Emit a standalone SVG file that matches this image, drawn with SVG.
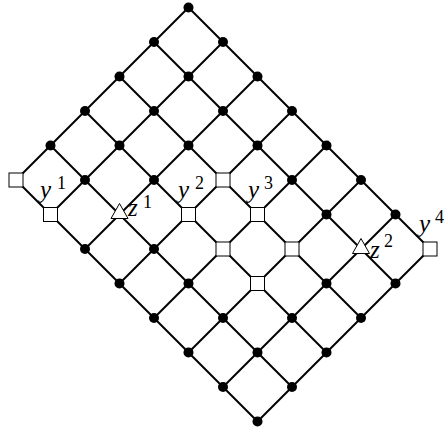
<svg xmlns="http://www.w3.org/2000/svg" width="444" height="429" viewBox="0 0 444 429">
<style>
.e{stroke:#000;stroke-width:2;fill:none}
.dot{fill:#000}
.sq{fill:#fff;stroke:#000;stroke-width:1}
.tri{fill:#fff;stroke:#000;stroke-width:1}
.lbl{font-family:"Liberation Serif",serif;font-style:italic;font-size:25px;fill:#000}
.sup{font-style:normal;font-size:18px}
</style>
<rect width="444" height="429" fill="#fff"/>
<g id="connectors">
<line class="e" x1="188.5" y1="7.5" x2="154" y2="42"/><line class="e" x1="154" y1="42" x2="119.5" y2="76.5"/><line class="e" x1="119.5" y1="76.5" x2="85" y2="111"/><line class="e" x1="85" y1="111" x2="50.5" y2="145.5"/><line class="e" x1="50.5" y1="145.5" x2="16" y2="180"/>
<line class="e" x1="223" y1="42" x2="188.5" y2="76.5"/><line class="e" x1="188.5" y1="76.5" x2="154" y2="111"/><line class="e" x1="154" y1="111" x2="119.5" y2="145.5"/><line class="e" x1="119.5" y1="145.5" x2="85" y2="180"/><line class="e" x1="85" y1="180" x2="50.5" y2="214.5"/>
<line class="e" x1="257.5" y1="76.5" x2="223" y2="111"/><line class="e" x1="223" y1="111" x2="188.5" y2="145.5"/><line class="e" x1="188.5" y1="145.5" x2="154" y2="180"/><line class="e" x1="154" y1="180" x2="119.5" y2="214.5"/><line class="e" x1="119.5" y1="214.5" x2="85" y2="249"/>
<line class="e" x1="292" y1="111" x2="257.5" y2="145.5"/><line class="e" x1="257.5" y1="145.5" x2="223" y2="180"/><line class="e" x1="223" y1="180" x2="188.5" y2="214.5"/><line class="e" x1="188.5" y1="214.5" x2="154" y2="249"/><line class="e" x1="154" y1="249" x2="119.5" y2="283.5"/>
<line class="e" x1="326.5" y1="145.5" x2="292" y2="180"/><line class="e" x1="292" y1="180" x2="257.5" y2="214.5"/><line class="e" x1="257.5" y1="214.5" x2="223" y2="249"/><line class="e" x1="223" y1="249" x2="188.5" y2="283.5"/><line class="e" x1="188.5" y1="283.5" x2="154" y2="318"/>
<line class="e" x1="361" y1="180" x2="326.5" y2="214.5"/><line class="e" x1="326.5" y1="214.5" x2="292" y2="249"/><line class="e" x1="292" y1="249" x2="257.5" y2="283.5"/><line class="e" x1="257.5" y1="283.5" x2="223" y2="318"/><line class="e" x1="223" y1="318" x2="188.5" y2="352.5"/>
<line class="e" x1="395.5" y1="214.5" x2="361" y2="249"/><line class="e" x1="361" y1="249" x2="326.5" y2="283.5"/><line class="e" x1="326.5" y1="283.5" x2="292" y2="318"/><line class="e" x1="292" y1="318" x2="257.5" y2="352.5"/><line class="e" x1="257.5" y1="352.5" x2="223" y2="387"/>
<line class="e" x1="430" y1="249" x2="395.5" y2="283.5"/><line class="e" x1="395.5" y1="283.5" x2="361" y2="318"/><line class="e" x1="361" y1="318" x2="326.5" y2="352.5"/><line class="e" x1="326.5" y1="352.5" x2="292" y2="387"/><line class="e" x1="292" y1="387" x2="257.5" y2="421.5"/>
<line class="e" x1="188.5" y1="7.5" x2="223" y2="42"/><line class="e" x1="223" y1="42" x2="257.5" y2="76.5"/><line class="e" x1="257.5" y1="76.5" x2="292" y2="111"/><line class="e" x1="292" y1="111" x2="326.5" y2="145.5"/><line class="e" x1="326.5" y1="145.5" x2="361" y2="180"/><line class="e" x1="361" y1="180" x2="395.5" y2="214.5"/><line class="e" x1="395.5" y1="214.5" x2="430" y2="249"/>
<line class="e" x1="154" y1="42" x2="188.5" y2="76.5"/><line class="e" x1="188.5" y1="76.5" x2="223" y2="111"/><line class="e" x1="223" y1="111" x2="257.5" y2="145.5"/><line class="e" x1="257.5" y1="145.5" x2="292" y2="180"/><line class="e" x1="292" y1="180" x2="326.5" y2="214.5"/><line class="e" x1="326.5" y1="214.5" x2="361" y2="249"/><line class="e" x1="361" y1="249" x2="395.5" y2="283.5"/>
<line class="e" x1="119.5" y1="76.5" x2="154" y2="111"/><line class="e" x1="154" y1="111" x2="188.5" y2="145.5"/><line class="e" x1="188.5" y1="145.5" x2="223" y2="180"/><line class="e" x1="223" y1="180" x2="257.5" y2="214.5"/><line class="e" x1="257.5" y1="214.5" x2="292" y2="249"/><line class="e" x1="292" y1="249" x2="326.5" y2="283.5"/><line class="e" x1="326.5" y1="283.5" x2="361" y2="318"/>
<line class="e" x1="85" y1="111" x2="119.5" y2="145.5"/><line class="e" x1="119.5" y1="145.5" x2="154" y2="180"/><line class="e" x1="154" y1="180" x2="188.5" y2="214.5"/><line class="e" x1="188.5" y1="214.5" x2="223" y2="249"/><line class="e" x1="223" y1="249" x2="257.5" y2="283.5"/><line class="e" x1="257.5" y1="283.5" x2="292" y2="318"/><line class="e" x1="292" y1="318" x2="326.5" y2="352.5"/>
<line class="e" x1="50.5" y1="145.5" x2="85" y2="180"/><line class="e" x1="85" y1="180" x2="119.5" y2="214.5"/><line class="e" x1="119.5" y1="214.5" x2="154" y2="249"/><line class="e" x1="154" y1="249" x2="188.5" y2="283.5"/><line class="e" x1="188.5" y1="283.5" x2="223" y2="318"/><line class="e" x1="223" y1="318" x2="257.5" y2="352.5"/><line class="e" x1="257.5" y1="352.5" x2="292" y2="387"/>
<line class="e" x1="16" y1="180" x2="50.5" y2="214.5"/><line class="e" x1="50.5" y1="214.5" x2="85" y2="249"/><line class="e" x1="85" y1="249" x2="119.5" y2="283.5"/><line class="e" x1="119.5" y1="283.5" x2="154" y2="318"/><line class="e" x1="154" y1="318" x2="188.5" y2="352.5"/><line class="e" x1="188.5" y1="352.5" x2="223" y2="387"/><line class="e" x1="223" y1="387" x2="257.5" y2="421.5"/>
</g>
<g id="n0_0"><circle class="dot" cx="188.5" cy="7.5" r="5"/></g>
<g id="n0_1"><circle class="dot" cx="223" cy="42" r="5"/></g>
<g id="n0_2"><circle class="dot" cx="257.5" cy="76.5" r="5"/></g>
<g id="n0_3"><circle class="dot" cx="292" cy="111" r="5"/></g>
<g id="n0_4"><circle class="dot" cx="326.5" cy="145.5" r="5"/></g>
<g id="n0_5"><circle class="dot" cx="361" cy="180" r="5"/></g>
<g id="n0_6"><circle class="dot" cx="395.5" cy="214.5" r="5"/></g>
<g id="n0_7"><rect class="sq" x="423" y="242" width="14" height="14"/><text class="lbl" x="419" y="232">y<tspan class="sup" x="435" y="223">4</tspan></text></g>
<g id="n1_0"><circle class="dot" cx="154" cy="42" r="5"/></g>
<g id="n1_1"><circle class="dot" cx="188.5" cy="76.5" r="5"/></g>
<g id="n1_2"><circle class="dot" cx="223" cy="111" r="5"/></g>
<g id="n1_3"><circle class="dot" cx="257.5" cy="145.5" r="5"/></g>
<g id="n1_4"><circle class="dot" cx="292" cy="180" r="5"/></g>
<g id="n1_5"><circle class="dot" cx="326.5" cy="214.5" r="5"/></g>
<g id="n1_6"><polygon class="tri" points="361,238.5 352.5,253.5 369.5,253.5"/><text class="lbl" x="370" y="258">z<tspan class="sup" x="384" y="247">2</tspan></text></g>
<g id="n1_7"><circle class="dot" cx="395.5" cy="283.5" r="5"/></g>
<g id="n2_0"><circle class="dot" cx="119.5" cy="76.5" r="5"/></g>
<g id="n2_1"><circle class="dot" cx="154" cy="111" r="5"/></g>
<g id="n2_2"><circle class="dot" cx="188.5" cy="145.5" r="5"/></g>
<g id="n2_3"><rect class="sq" x="216" y="173" width="14" height="14"/></g>
<g id="n2_4"><rect class="sq" x="250.5" y="207.5" width="14" height="14"/><text class="lbl" x="248" y="198">y<tspan class="sup" x="264" y="189">3</tspan></text></g>
<g id="n2_5"><rect class="sq" x="285" y="242" width="14" height="14"/></g>
<g id="n2_6"><circle class="dot" cx="326.5" cy="283.5" r="5"/></g>
<g id="n2_7"><circle class="dot" cx="361" cy="318" r="5"/></g>
<g id="n3_0"><circle class="dot" cx="85" cy="111" r="5"/></g>
<g id="n3_1"><circle class="dot" cx="119.5" cy="145.5" r="5"/></g>
<g id="n3_2"><circle class="dot" cx="154" cy="180" r="5"/></g>
<g id="n3_3"><rect class="sq" x="181.5" y="207.5" width="14" height="14"/><text class="lbl" x="178" y="198">y<tspan class="sup" x="195" y="189">2</tspan></text></g>
<g id="n3_4"><rect class="sq" x="216" y="242" width="14" height="14"/></g>
<g id="n3_5"><rect class="sq" x="250.5" y="276.5" width="14" height="14"/></g>
<g id="n3_6"><circle class="dot" cx="292" cy="318" r="5"/></g>
<g id="n3_7"><circle class="dot" cx="326.5" cy="352.5" r="5"/></g>
<g id="n4_0"><circle class="dot" cx="50.5" cy="145.5" r="5"/></g>
<g id="n4_1"><circle class="dot" cx="85" cy="180" r="5"/></g>
<g id="n4_2"><polygon class="tri" points="119.5,203.5 111,218.5 128,218.5"/><text class="lbl" x="128" y="216">z<tspan class="sup" x="143" y="208">1</tspan></text></g>
<g id="n4_3"><circle class="dot" cx="154" cy="249" r="5"/></g>
<g id="n4_4"><circle class="dot" cx="188.5" cy="283.5" r="5"/></g>
<g id="n4_5"><circle class="dot" cx="223" cy="318" r="5"/></g>
<g id="n4_6"><circle class="dot" cx="257.5" cy="352.5" r="5"/></g>
<g id="n4_7"><circle class="dot" cx="292" cy="387" r="5"/></g>
<g id="n5_0"><rect class="sq" x="9" y="173" width="14" height="14"/></g>
<g id="n5_1"><rect class="sq" x="43.5" y="207.5" width="14" height="14"/><text class="lbl" x="40" y="198">y<tspan class="sup" x="57" y="189">1</tspan></text></g>
<g id="n5_2"><circle class="dot" cx="85" cy="249" r="5"/></g>
<g id="n5_3"><circle class="dot" cx="119.5" cy="283.5" r="5"/></g>
<g id="n5_4"><circle class="dot" cx="154" cy="318" r="5"/></g>
<g id="n5_5"><circle class="dot" cx="188.5" cy="352.5" r="5"/></g>
<g id="n5_6"><circle class="dot" cx="223" cy="387" r="5"/></g>
<g id="n5_7"><circle class="dot" cx="257.5" cy="421.5" r="5"/></g>
</svg>
